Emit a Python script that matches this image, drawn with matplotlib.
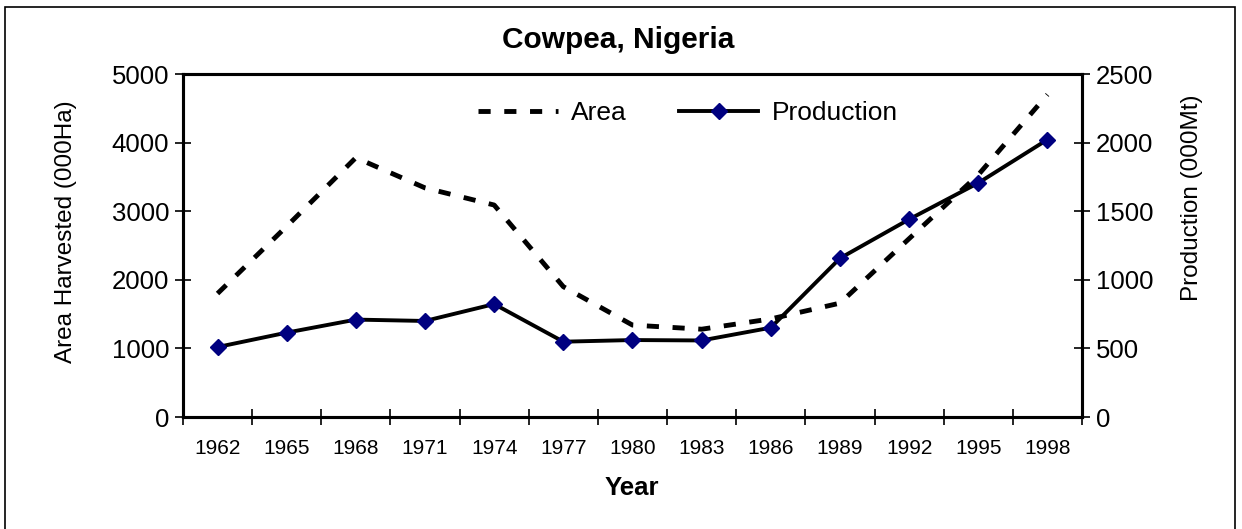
import matplotlib.pyplot as plt
from matplotlib.patches import Rectangle

plt.rcParams['font.family'] = ['Liberation Sans', 'DejaVu Sans']

# data
years = ['1962', '1965', '1968', '1971', '1974', '1977', '1980',
         '1983', '1986', '1989', '1992', '1995', '1998']
area = [1800, 2780, 3780, 3340, 3090, 1900, 1340, 1280, 1430, 1660, 2600, 3530, 4700]
production = [510, 615, 710, 700, 823, 549, 561, 558, 651, 1157, 1441, 1706, 2022]

fig = plt.figure(figsize=(12.42, 5.29), dpi=100)
ax = fig.add_axes([0.1473, 0.2117, 0.7239, 0.6484])
ax2 = ax.twinx()

x = list(range(len(years)))
l1, = ax.plot(x, area, color='black', lw=3.5, linestyle=(0, (2.5, 2.8)), label='Area')
l2, = ax2.plot(x, production, color='black', lw=2.8, marker='D', markersize=8,
               markerfacecolor='#000080', markeredgecolor='#000080', label='Production')

ax.set_xlim(-0.5, len(years) - 0.5)
ax.set_ylim(0, 5000)
ax2.set_ylim(0, 2500)
ax.set_yticks(range(0, 5001, 1000))
ax2.set_yticks(range(0, 2501, 500))

# ticks between categories, labels centred on categories
ax.set_xticks([i + 0.5 for i in range(-1, len(years))])
ax.set_xticklabels([])
ax.set_xticks(x, minor=True)
ax.set_xticklabels(years, minor=True)
ax.tick_params(axis='x', which='major', direction='inout', length=12, width=1.2)
ax.tick_params(axis='x', which='minor', length=0, labelsize=15, pad=16)
ax.tick_params(axis='y', direction='inout', length=12, width=1.2, labelsize=18.5, pad=4)
ax2.tick_params(axis='y', direction='inout', length=12, width=1.2, labelsize=18.5, pad=4)

for a in (ax, ax2):
    for s in a.spines.values():
        s.set_linewidth(2.2)

fig.text(618 / 1242, 1 - 40 / 529, 'Cowpea, Nigeria', fontsize=21.5, fontweight='bold',
         ha='center', va='center')
fig.text(632 / 1242, 1 - 488 / 529, 'Year', fontsize=18.5, fontweight='bold',
         ha='center', va='center')
fig.text(66 / 1242, 1 - 232 / 529, 'Area Harvested (000Ha)', fontsize=17.5,
         rotation=90, ha='center', va='center')
fig.text(1192 / 1242, 1 - 198 / 529, 'Production (000Mt)', fontsize=17.5,
         rotation=90, ha='center', va='center')

fig.legend(handles=[l1, l2], loc='center', bbox_to_anchor=(0.554, 0.786), ncol=2,
           frameon=False, fontsize=19, handlelength=3.0, columnspacing=2.0,
           handletextpad=0.5)

fig.patches.append(Rectangle((5 / 1242, -0.05), 1230 / 1242, 1.05 - 7 / 529,
                             transform=fig.transFigure, fill=False,
                             edgecolor='black', lw=1.2))

fig.savefig('out.png', dpi=100)
